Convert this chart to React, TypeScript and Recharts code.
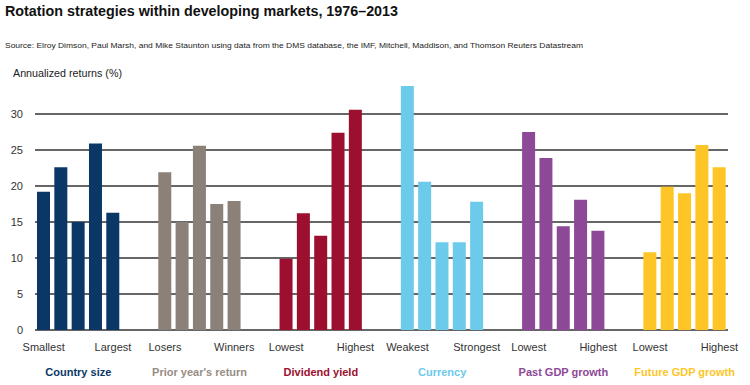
import React from 'react';
import { BarChart, Bar, XAxis, YAxis, CartesianGrid, Cell } from 'recharts';

const groupNames = ['Country size', "Prior year's return", 'Dividend yield', 'Currency', 'Past GDP growth', 'Future GDP growth'];
const groupColors = ['#0a3766', '#8b8178', '#9c0f2e', '#6ccaea', '#8e4898', '#fdc626'];
const labelColors = ['#0a3766', '#978d84', '#9c0f2e', '#6ccaea', '#8e4898', '#fdc626'];
const lowLabels = ['Smallest', 'Losers', 'Lowest', 'Weakest', 'Lowest', 'Lowest'];
const highLabels = ['Largest', 'Winners', 'Highest', 'Strongest', 'Highest', 'Highest'];

const countrySize = [19.2, 22.6, 15.0, 25.9, 16.3];
const priorReturn = [21.9, 15.0, 25.6, 17.5, 17.9];
const dividendYield = [9.9, 16.2, 13.1, 27.4, 30.6];
const currency = [33.9, 20.6, 12.2, 12.2, 17.8];
const pastGdp = [27.5, 23.9, 14.4, 18.1, 13.8];
const futureGdp = [10.8, 19.9, 19.0, 25.7, 22.6];

const yTicks = [0, 5, 10, 15, 20, 25, 30];

const seriesList = [countrySize, priorReturn, dividendYield, currency, pastGdp, futureGdp];

// 5 bars per group, then two empty slots between groups
const rows: any[] = [];
seriesList.forEach((vals, g) => {
  vals.forEach((v, i) => {
    rows.push({ slot: rows.length, value: v, group: g, pos: i });
  });
  if (g < seriesList.length - 1) {
    rows.push({ slot: rows.length, value: null, group: -1, pos: -1 });
    rows.push({ slot: rows.length, value: null, group: -1, pos: -1 });
  }
});

const font = '"Liberation Sans", Arial, sans-serif';

const GroupTick = (props: any) => {
  const { x, y, payload } = props;
  const row = rows[payload.value];
  if (!row || row.group < 0) return <g />;
  const g = row.group;
  return (
    <g>
      {row.pos === 0 && (
        <text x={x} y={y + 21} textAnchor="middle" fontSize={11} fill="#333" fontFamily={font}>{lowLabels[g]}</text>
      )}
      {row.pos === 4 && (
        <text x={x} y={y + 21} textAnchor="middle" fontSize={11} fill="#333" fontFamily={font}>{highLabels[g]}</text>
      )}
      {row.pos === 2 && (
        <text x={x} y={y + 46} textAnchor="middle" fontSize={11} fontWeight="bold" fill={labelColors[g]} fontFamily={font}>{groupNames[g]}</text>
      )}
    </g>
  );
};

export default function App() {
  return (
    <div style={{ position: 'absolute', left: 0, top: 0, width: 750, height: 385, background: '#fff' }}>
      <BarChart width={750} height={385} data={rows} margin={{ top: 78, right: 22, left: 0, bottom: 0 }} barSize={13}>
        <CartesianGrid horizontal vertical={false} horizontalValues={yTicks} stroke="#333" strokeWidth={1.3} />
        <XAxis dataKey="slot" interval={0} height={55} axisLine={false} tickLine={false} tickSize={0} tickMargin={0} tick={<GroupTick />} />
        <YAxis
          domain={[0, 35]}
          ticks={yTicks}
          width={35}
          axisLine={false}
          tickLine={false}
          tickMargin={6}
          tick={{ fontSize: 11, fill: '#333', fontFamily: font }}
        />
        <Bar dataKey="value" isAnimationActive={false}>
          {rows.map((r) => (
            <Cell key={r.slot} fill={r.group >= 0 ? groupColors[r.group] : 'none'} />
          ))}
        </Bar>
      </BarChart>
      <svg width={750} height={90} style={{ position: 'absolute', left: 0, top: 0, pointerEvents: 'none' }}>
        <text x={5} y={16} fontSize={14.5} fontWeight="bold" fill="#111" fontFamily={font} textLength={393} lengthAdjust="spacingAndGlyphs">
          Rotation strategies within developing markets, 1976–2013
        </text>
        <text x={5} y={48} fontSize={8} fill="#222" fontFamily={font} textLength={578} lengthAdjust="spacingAndGlyphs">
          Source: Elroy Dimson, Paul Marsh, and Mike Staunton using data from the DMS database, the IMF, Mitchell, Maddison, and Thomson Reuters Datastream
        </text>
        <text x={13} y={77} fontSize={11} fill="#222" fontFamily={font} textLength={109} lengthAdjust="spacingAndGlyphs">
          Annualized returns (%)
        </text>
      </svg>
    </div>
  );
}
